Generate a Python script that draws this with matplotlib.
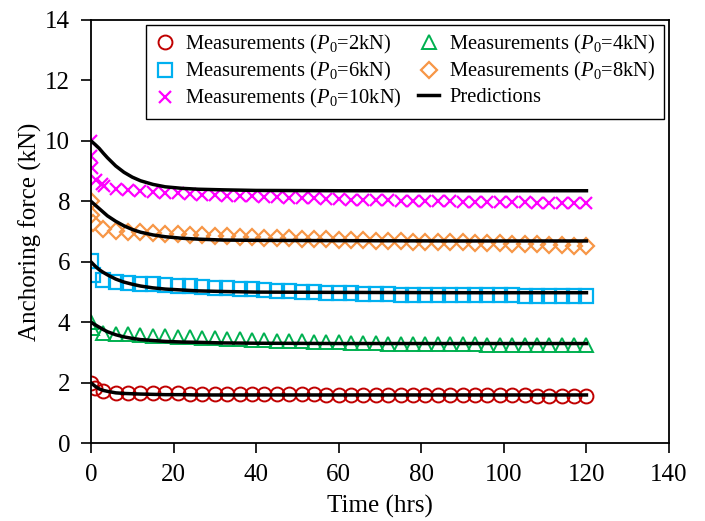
import numpy as np
import matplotlib
matplotlib.use('Agg')
import matplotlib.pyplot as plt

plt.rcParams['font.family'] = 'Liberation Serif'
plt.rcParams['mathtext.fontset'] = 'custom'
plt.rcParams['mathtext.rm'] = 'Liberation Serif'
plt.rcParams['mathtext.it'] = 'Liberation Serif:italic'

# common measurement times after the first few hours (every 3 hrs)
t_tail = list(range(6, 121, 3))

# P0 = 2kN
t_2 = [0, 1, 3] + t_tail
m_2 = [2.00, 1.82, 1.74,
       1.67, 1.66, 1.66, 1.65, 1.65, 1.65, 1.64, 1.64, 1.64, 1.63, 1.63, 1.63, 1.63,
       1.62, 1.62, 1.62, 1.62, 1.61, 1.61, 1.61, 1.61, 1.61, 1.60, 1.60, 1.60, 1.60,
       1.60, 1.60, 1.59, 1.59, 1.59, 1.59, 1.59, 1.59, 1.58, 1.58, 1.58, 1.58, 1.58]

# P0 = 4kN
t_4 = [0, 0.2, 3] + t_tail
m_4 = [4.02, 3.82, 3.66,
       3.62, 3.60, 3.58, 3.56, 3.54, 3.52, 3.50, 3.48, 3.47, 3.45, 3.44, 3.43, 3.41,
       3.40, 3.38, 3.37, 3.36, 3.35, 3.34, 3.33, 3.32, 3.31, 3.30, 3.29, 3.29, 3.28,
       3.28, 3.27, 3.27, 3.27, 3.26, 3.26, 3.26, 3.26, 3.25, 3.25, 3.25, 3.25, 3.25]

# P0 = 6kN
t_6 = [0, 0.4, 3] + t_tail
m_6 = [6.02, 5.56, 5.40,
       5.34, 5.31, 5.28, 5.26, 5.23, 5.21, 5.19, 5.17, 5.15, 5.13, 5.11, 5.09, 5.07,
       5.05, 5.03, 5.01, 5.00, 4.98, 4.97, 4.96, 4.95, 4.94, 4.93, 4.92, 4.92, 4.91,
       4.91, 4.90, 4.90, 4.90, 4.89, 4.89, 4.89, 4.88, 4.88, 4.88, 4.88, 4.87, 4.87]

# P0 = 8kN
t_8 = [0, 0, 0.4, 3] + t_tail
m_8 = [8.00, 7.56, 7.27, 7.08,
       7.02, 6.99, 6.97, 6.94, 6.92, 6.91, 6.89, 6.88, 6.86, 6.84, 6.83, 6.81, 6.80,
       6.79, 6.78, 6.76, 6.75, 6.74, 6.73, 6.72, 6.71, 6.70, 6.69, 6.68, 6.67, 6.66,
       6.66, 6.65, 6.64, 6.63, 6.62, 6.61, 6.60, 6.59, 6.58, 6.57, 6.56, 6.54, 6.52]

# P0 = 10kN
t_10 = [0, 0, 0.2, 1.2, 2.6, 3.1] + t_tail
m_10 = [10.00, 9.50, 9.10, 8.70, 8.58, 8.50,
        8.40, 8.36, 8.33, 8.30, 8.28, 8.26, 8.24, 8.22, 8.21, 8.19, 8.18, 8.16, 8.15,
        8.13, 8.12, 8.11, 8.10, 8.08, 8.07, 8.06, 8.05, 8.04, 8.03, 8.02, 8.01, 8.01,
        8.00, 8.00, 7.99, 7.99, 7.98, 7.98, 7.97, 7.97, 7.96, 7.96, 7.96, 7.95, 7.95]

# predictions
t_pred = [0, 1, 2, 3, 4, 6, 8, 10, 12, 15, 18, 22, 26, 32, 40, 60, 90, 120]
p_2 = [2.00, 1.89, 1.80, 1.75, 1.72, 1.67, 1.65, 1.64, 1.63, 1.62, 1.61, 1.61, 1.60, 1.60, 1.60, 1.60, 1.60, 1.60]
p_4 = [4.00, 3.92, 3.84, 3.76, 3.69, 3.59, 3.52, 3.47, 3.43, 3.40, 3.37, 3.35, 3.34, 3.32, 3.31, 3.30, 3.30, 3.30]
p_6 = [6.00, 5.86, 5.74, 5.65, 5.57, 5.43, 5.33, 5.26, 5.20, 5.14, 5.10, 5.07, 5.04, 5.02, 5.00, 4.99, 4.98, 4.98]
p_8 = [8.00, 7.88, 7.76, 7.64, 7.52, 7.34, 7.19, 7.07, 6.98, 6.89, 6.83, 6.78, 6.75, 6.72, 6.71, 6.70, 6.69, 6.69]
p_10 = [10.00, 9.88, 9.75, 9.59, 9.44, 9.17, 8.96, 8.80, 8.68, 8.56, 8.48, 8.43, 8.40, 8.38, 8.36, 8.35, 8.35, 8.35]

fig = plt.figure(figsize=(7.05, 5.21), dpi=100)
ax = fig.add_axes([0.129, 0.149, 0.820, 0.813])

ms = 10
mew = 1.4
h2, = ax.plot(t_2, m_2, 'o', ms=ms, mfc='none', mec='#C00000', mew=mew,
              label=r'Measurements ($P_0$=2kN)')
h4, = ax.plot(t_4, m_4, '^', ms=ms, mfc='none', mec='#00B050', mew=mew,
              label=r'Measurements ($P_0$=4kN)')
h6, = ax.plot(t_6, m_6, 's', ms=ms - 0.5, mfc='none', mec='#00B0F0', mew=mew + 0.2,
              label=r'Measurements ($P_0$=6kN)')
h8, = ax.plot(t_8, m_8, 'D', ms=ms - 1.5, mfc='none', mec='#F79646', mew=mew + 0.2,
              label=r'Measurements ($P_0$=8kN)')
h10, = ax.plot(t_10, m_10, 'x', ms=ms - 1.5, mec='#FF00FF', mew=mew + 0.2,
               label=r'Measurements ($P_0$=10kN)')

for p in [p_2, p_4, p_6, p_8, p_10]:
    hp, = ax.plot(t_pred, p, '-', color='black', lw=2.5, label='Predictions')

ax.set_xlim(0, 140)
ax.set_ylim(0, 14)
ax.set_xticks(range(0, 141, 20))
ax.set_yticks(range(0, 15, 2))
ax.tick_params(direction='out', length=7, width=1.2, labelsize=18, pad=8)
for s in ax.spines.values():
    s.set_linewidth(1.3)
ax.set_xlabel('Time (hrs)', fontsize=18, labelpad=6)
ax.set_ylabel('Anchoring force (kN)', fontsize=18, labelpad=2)

leg = ax.legend(handles=[h2, h6, h10, h4, h8, hp], ncol=2, loc='upper right',
                fontsize=14.8, frameon=True, fancybox=False, edgecolor='black',
                framealpha=1, handlelength=1.0, handletextpad=0.5,
                columnspacing=0.8, labelspacing=0.2, borderpad=0.4,
                borderaxespad=0.25)
leg.get_frame().set_linewidth(1.0)

plt.savefig('out.png', dpi=100)
